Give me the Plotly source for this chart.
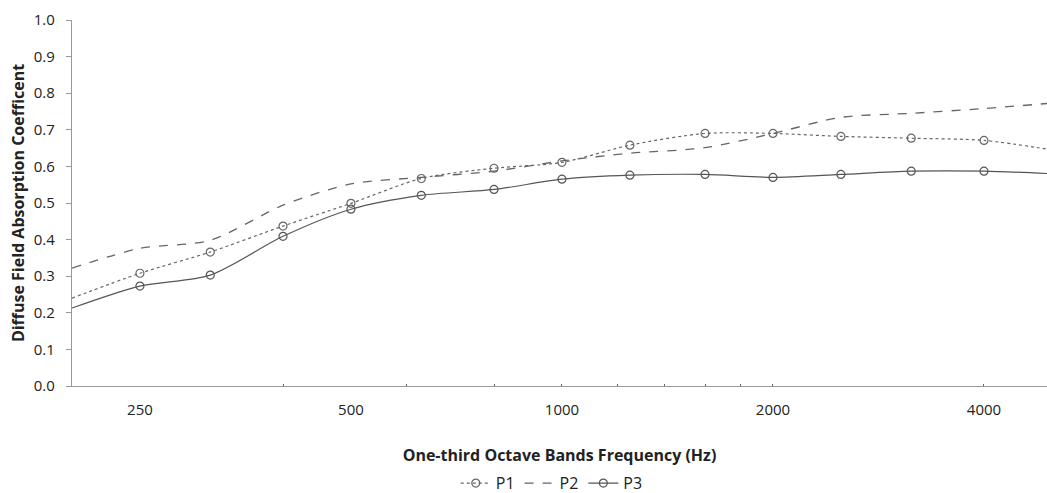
import math
import plotly.graph_objects as go

freqs = [200, 250, 315, 400, 500, 630, 800, 1000, 1250, 1600, 2000, 2500, 3150, 4000, 5000]
p1 = [0.240, 0.308, 0.366, 0.437, 0.499, 0.567, 0.595, 0.611, 0.658, 0.690, 0.690, 0.682, 0.677, 0.671, 0.645]
p2 = [0.322, 0.376, 0.398, 0.494, 0.552, 0.570, 0.587, 0.615, 0.636, 0.651, 0.690, 0.734, 0.745, 0.758, 0.773]
p3 = [0.213, 0.273, 0.303, 0.409, 0.483, 0.521, 0.537, 0.565, 0.576, 0.578, 0.570, 0.578, 0.587, 0.587, 0.580]
x_tick_vals = [250, 500, 1000, 2000, 4000]
x_minor_vals = [400, 600, 800, 1000, 1200, 1400, 1600, 1800, 2000, 4000]
y_tick_vals = [0.0, 0.1, 0.2, 0.3, 0.4, 0.5, 0.6, 0.7, 0.8, 0.9, 1.0]

FONT = "Open Sans"
fig = go.Figure()
fig.add_trace(go.Scatter(
    x=freqs, y=p1, name="P1", mode="lines+markers",
    line=dict(color="#666666", width=1.2, dash="dot", shape="spline", smoothing=0.8),
    marker=dict(symbol="circle-open", size=8, color="#666666", line=dict(width=1.2)),
    cliponaxis=False))
fig.add_trace(go.Scatter(
    x=freqs, y=p2, name="P2", mode="lines",
    line=dict(color="#666666", width=1.3, dash="dash", shape="spline", smoothing=0.8)))
fig.add_trace(go.Scatter(
    x=freqs, y=p3, name="P3", mode="lines+markers",
    line=dict(color="#555555", width=1.2, shape="spline", smoothing=0.8),
    marker=dict(symbol="circle-open", size=8, color="#555555", line=dict(width=1.2)),
    cliponaxis=False))

fig.update_layout(
    width=1047, height=493,
    margin=dict(l=72, r=0, t=20, b=107),
    paper_bgcolor="white", plot_bgcolor="white",
    font=dict(family=FONT, size=15, color="#222222"),
    showlegend=True,
    legend=dict(orientation="h", xref="container", yref="container",
                x=0.527, xanchor="center", y=0.02, yanchor="middle",
                font=dict(size=16), itemwidth=30, tracegroupgap=0),
    xaxis=dict(
        type="log", range=[math.log10(200), math.log10(4920)], automargin=True,
        tickmode="array", tickvals=x_tick_vals, ticktext=[str(v) for v in x_tick_vals],
        showgrid=False, zeroline=False, showline=True, linecolor="#999999", linewidth=1.3,
        ticks="", ticklabelstandoff=10,
        minor=dict(tickmode="array", tickvals=x_minor_vals, ticks="inside", ticklen=2,
                   tickcolor="#666666", showgrid=False),
        title=dict(text="<b>One-third Octave Bands Frequency (Hz)</b>", standoff=36,
                   font=dict(size=16)),
    ),
    yaxis=dict(
        range=[0, 1.0], tickmode="array", tickvals=y_tick_vals, automargin=False,
        ticktext=[f"{v:.1f}" for v in y_tick_vals],
        showgrid=False, zeroline=False, showline=True, linecolor="#999999", linewidth=1.3,
        ticks="outside", ticklen=5, tickcolor="#999999", ticklabelstandoff=8,
        title=dict(text="<b>Diffuse Field Absorption Coefficent</b>", standoff=5,
                   font=dict(size=16)),
    ),
)
fig.write_html("out.html")
